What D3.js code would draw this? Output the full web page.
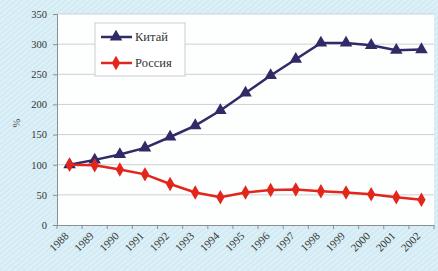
<!DOCTYPE html>
<html>
<head>
<meta charset="utf-8">
<script src="https://cdn.jsdelivr.net/npm/d3@7"></script>
<style>
  body { margin: 0; background: #d9eef6; }
  svg { display: block; }
</style>
</head>
<body>
<svg id="chart" width="438" height="271"></svg>
<script>
const years = ["1988","1989","1990","1991","1992","1993","1994","1995","1996","1997","1998","1999","2000","2001","2002"]
const china = [100, 108, 117, 128, 146, 165, 190, 219, 248, 275, 302, 302, 298, 290, 291]
const russia = [100, 99, 92, 84, 68, 54, 46, 54, 58, 59, 56, 54, 51, 46, 42]
const yTicks = [0, 50, 100, 150, 200, 250, 300, 350]

const W = 438, H = 271
const plotLeft = 57, plotRight = 434, plotTop = 14, plotBottom = 225

const svg = d3.select('#chart')

// hatched blue page
const defs = svg.append('defs')
const pat = defs.append('pattern')
    .attr('id', 'hatch')
    .attr('width', 4).attr('height', 4)
    .attr('patternUnits', 'userSpaceOnUse')
    .attr('patternTransform', 'rotate(-40)')
pat.append('rect').attr('width', 4).attr('height', 4).attr('fill', '#d3ebf4')
pat.append('line').attr('x1', 0).attr('y1', 0).attr('x2', 4).attr('y2', 0)
    .attr('stroke', '#eef8fb').attr('stroke-width', 1.4)

svg.append('rect').attr('width', W).attr('height', H).attr('fill', 'url(#hatch)')

// plot area
svg.append('rect')
    .attr('x', plotLeft).attr('y', plotTop)
    .attr('width', plotRight - plotLeft).attr('height', plotBottom - plotTop)
    .attr('fill', '#fdfefe')

const x = d3.scaleBand().domain(years).range([plotLeft, plotRight])
const y = d3.scaleLinear().domain([0, 350]).range([plotBottom, plotTop])

// gridlines
svg.append('g')
    .selectAll('line')
    .data(yTicks.slice(1))
    .join('line')
    .attr('x1', plotLeft).attr('x2', plotRight)
    .attr('y1', d => y(d)).attr('y2', d => y(d))
    .attr('stroke', '#cdd1d5')
    .attr('stroke-width', 1)

// y axis
const yAxis = svg.append('g')
    .attr('transform', `translate(${plotLeft},0)`)
    .call(d3.axisLeft(y).tickValues(yTicks).tickSize(4).tickPadding(6))
yAxis.selectAll('path, line').attr('stroke', '#8a8f94')
yAxis.selectAll('text')
    .attr('font-family', 'Liberation Serif')
    .attr('font-size', 10.5)
    .attr('fill', '#333')

// x axis
const xAxis = svg.append('g')
    .attr('transform', `translate(0,${plotBottom})`)
    .call(d3.axisBottom(x).tickSize(0).tickPadding(0))
xAxis.select('.domain').attr('stroke', '#8a8f94')
xAxis.selectAll('.tick text')
    .attr('font-family', 'Liberation Serif')
    .attr('font-size', 11)
    .attr('fill', '#333')
    .attr('text-anchor', 'end')
    .attr('transform', 'translate(-3,9) rotate(-45)')
    .attr('dy', '0.35em')
svg.append('g')
    .selectAll('line')
    .data(years.concat(['end']))
    .join('line')
    .attr('x1', (d, i) => plotLeft + i * x.step())
    .attr('x2', (d, i) => plotLeft + i * x.step())
    .attr('y1', plotBottom).attr('y2', plotBottom + 4)
    .attr('stroke', '#8a8f94')

// y label
svg.append('text')
    .attr('transform', 'translate(20,123) rotate(-90)')
    .attr('text-anchor', 'middle')
    .attr('font-family', 'Liberation Serif')
    .attr('font-size', 10.5)
    .attr('fill', '#444')
    .text('%')

const cx = d => x(d) + x.bandwidth() / 2

const series = [
    {name: 'Китай', values: china, color: '#2f2b66', marker: d3.symbolTriangle, size: 68},
    {name: 'Россия', values: russia, color: '#e3261c', marker: d3.symbolDiamond, size: 60}
]

series.forEach(s => {
    const pts = years.map((yr, i) => [cx(yr), y(s.values[i])])
    svg.append('path')
        .attr('d', d3.line()(pts))
        .attr('fill', 'none')
        .attr('stroke', s.color)
        .attr('stroke-width', 2.5)
    svg.append('g')
        .selectAll('path')
        .data(pts)
        .join('path')
        .attr('d', d3.symbol().type(s.marker).size(s.size))
        .attr('transform', d => `translate(${d[0]},${d[1]})`)
        .attr('fill', s.color)
})

// legend
const lg = svg.append('g')
lg.append('rect')
    .attr('x', 95).attr('y', 23).attr('width', 90).attr('height', 53)
    .attr('fill', '#fff').attr('stroke', '#c9cdd1')
series.forEach((s, i) => {
    const ly = 37 + i * 26
    lg.append('line')
        .attr('x1', 101).attr('x2', 132).attr('y1', ly).attr('y2', ly)
        .attr('stroke', s.color).attr('stroke-width', 2.5)
    lg.append('path')
        .attr('d', d3.symbol().type(s.marker).size(s.size))
        .attr('transform', `translate(116,${ly})`)
        .attr('fill', s.color)
    lg.append('text')
        .attr('x', 135).attr('y', ly)
        .attr('dy', '0.35em')
        .attr('font-family', 'Liberation Serif')
        .attr('font-size', 12.5)
        .attr('fill', '#333')
        .text(s.name)
})
</script>
</body>
</html>
